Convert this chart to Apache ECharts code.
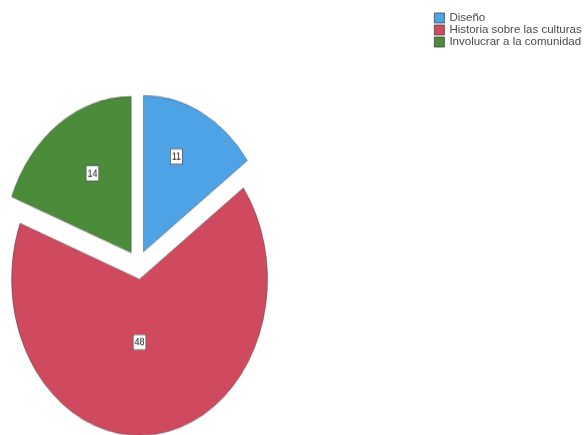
<!DOCTYPE html>
<html>
<head>
<meta charset="utf-8">
<script src="https://cdn.jsdelivr.net/npm/echarts@6/dist/echarts.min.js"></script>
<style>
  html, body { margin: 0; padding: 0; background: #fff; }
  #wrap { position: relative; width: 586px; height: 435px; overflow: hidden; }
  /* the scanned pie is taller than wide, so the pie canvas is stretched vertically */
  #pie { position: absolute; left: 0; top: 0; width: 300px; height: 357px; transform: scaleY(1.22); transform-origin: 0 0; }
  #legend { position: absolute; left: 0; top: 0; width: 586px; height: 435px; }
</style>
</head>
<body>
<div id="wrap">
  <div id="pie"></div>
  <div id="legend"></div>
</div>
<script>
const categories = ['Diseño', 'Historia sobre las culturas', 'Involucrar a la comunidad']
const values = [11, 48, 14]
const colors = ['#4ea3e6', '#cf4a5e', '#4b8c3b']
// small nudges for the value boxes, px in the unstretched canvas
const labelShift = [[-19, -14], [0, 25], [21, -1]]

const pieData = categories.map((name, i) => ({
  name: name,
  value: values[i],
  selected: true,
  itemStyle: { color: colors[i] }
}))

const sliceStyle = { borderColor: 'rgba(50,40,40,0.55)', borderWidth: 0.7 }
const boxLabel = {
  show: true,
  position: 'inside',
  formatter: '{c}',
  fontSize: 9,
  fontFamily: 'Liberation Sans',
  color: '#222',
  backgroundColor: '#fff',
  borderColor: '#444',
  borderWidth: 0.6,
  padding: [2, 1, 1, 1]
}

let pieChart = echarts.init(document.getElementById('pie'))
pieChart.setOption({
  animation: false,
  series: [{
    type: 'pie',
    center: [138, 217],
    radius: 128,
    startAngle: 90,
    clockwise: true,
    selectedMode: 'multiple',
    selectedOffset: 12,
    itemStyle: sliceStyle,
    label: boxLabel,
    labelLine: { show: false },
    emphasis: { disabled: true },
    select: { itemStyle: sliceStyle, label: boxLabel },
    labelLayout: function(p) {
      let s = labelShift[p.dataIndex]
      return { dx: s[0], dy: s[1] }
    },
    data: pieData
  }]
})

let legendChart = echarts.init(document.getElementById('legend'))
legendChart.setOption({
  animation: false,
  legend: {
    orient: 'vertical',
    left: 429,
    top: 7,
    icon: 'rect',
    itemWidth: 10,
    itemHeight: 10,
    itemGap: 0,
    selectedMode: false,
    itemStyle: { borderColor: '#444', borderWidth: 0.8 },
    textStyle: { fontSize: 11.5, fontFamily: 'Liberation Sans', color: '#4a4a4a', lineHeight: 12 },
    data: categories
  },
  series: [{
    type: 'pie',
    center: [-200, -200],
    radius: 1,
    silent: true,
    label: { show: false },
    itemStyle: { borderWidth: 0 },
    data: pieData.map(d => ({ name: d.name, value: d.value, itemStyle: d.itemStyle }))
  }]
})
</script>
</body>
</html>
